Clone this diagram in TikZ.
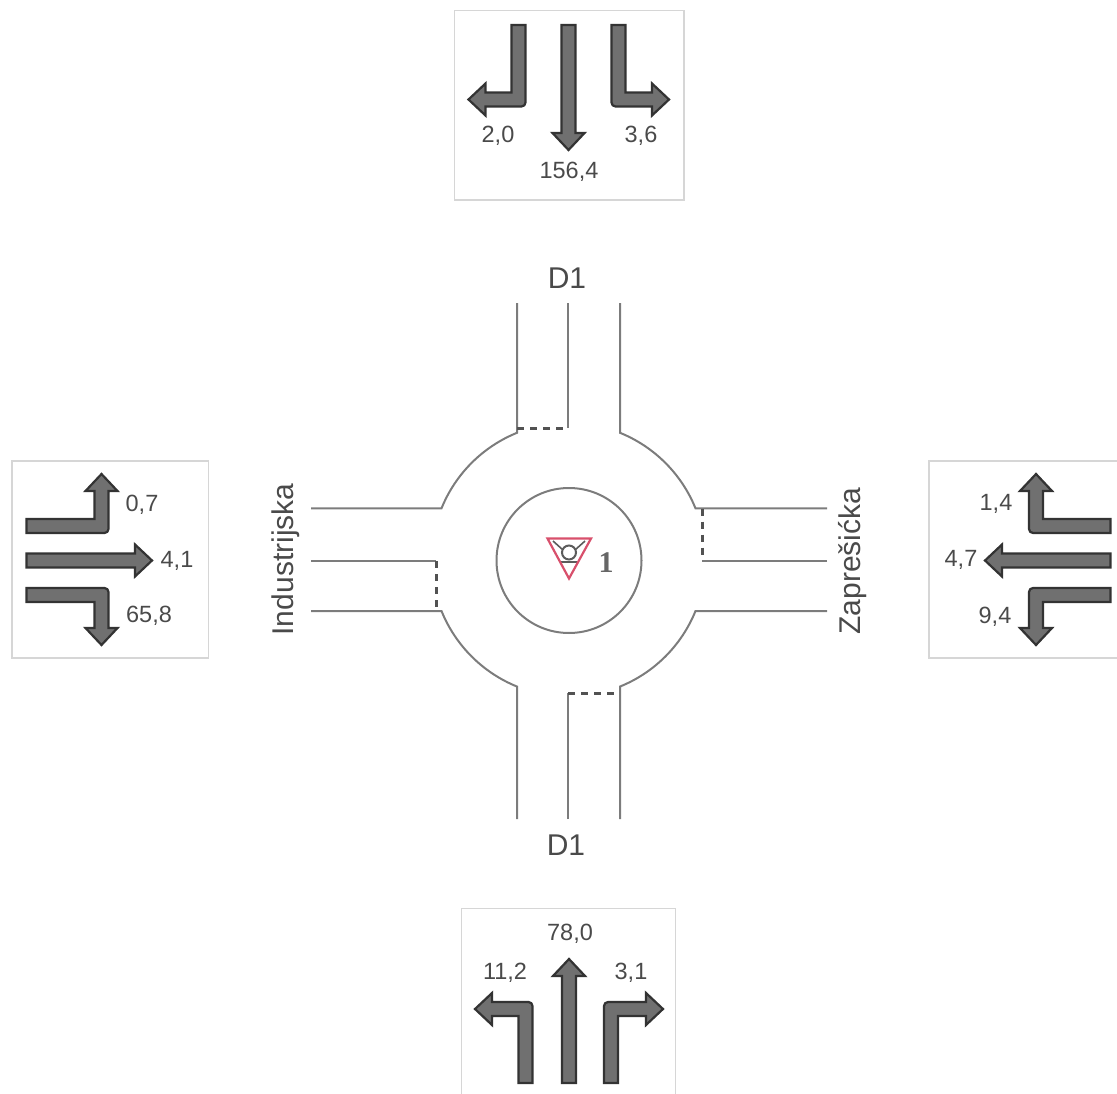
\documentclass[tikz,border=0pt]{standalone}
\usepackage{fontspec}
\setmainfont{Liberation Sans}
\newfontfamily\numfont{Liberation Serif}
\definecolor{arrowfill}{HTML}{707070}
\definecolor{arrowline}{HTML}{333333}
\definecolor{roadline}{HTML}{7C7C7C}
\definecolor{boxline}{HTML}{D6D6D6}
\definecolor{labelcol}{HTML}{4A4A4A}
\definecolor{yieldred}{HTML}{D8506C}
\tikzset{
  road/.style={draw=roadline,line width=2pt},
  stopline/.style={draw=arrowline!85!white,line width=3pt,dash pattern=on 7pt off 6pt},
  panel/.style={draw=boxline,line width=1.6pt},
  flow/.style={draw=arrowline,fill=arrowfill,line width=2.2pt,line join=miter},
  num/.style={text=labelcol,font=\fontsize{23.5}{26}\selectfont,inner sep=0pt},
  lab/.style={text=labelcol,font=\fontsize{30}{33}\selectfont,inner sep=0pt},
}
% straight arrow: x, y (start), rotation, length
\newcommand{\straightflow}[4]{%
  \begin{scope}[shift={(#1,#2)},rotate=#3]
    \path[flow] (-7,0) -- (-7,-#4+17) -- (-16,-#4+17) -- (0,-#4) -- (16,-#4+17) -- (7,-#4+17) -- (7,0) -- cycle;
  \end{scope}}
% turning arrow: x, y (start), rotation, side, run, run after the turn to the tip
\newcommand{\turnflow}[6]{%
  \begin{scope}[shift={(#1,#2)},rotate=#3,xscale=#4]
    \path[flow] (-7,0) -- (-7,-#5-3) arc[start angle=180,end angle=270,radius=4]
      -- (#6-17,-#5-7) -- (#6-17,-#5-16) -- (#6,-#5) -- (#6-17,-#5+16) -- (#6-17,-#5+7)
      -- (7,-#5+7) -- (7,0) -- cycle;
  \end{scope}}
\begin{document}
\begin{tikzpicture}[x=1pt,y=1pt]
\useasboundingbox (0,-1094) rectangle (1117,0);
% panels
\draw[panel] (454.5,-10.5) rectangle (684,-200);
\draw[panel] (12,-461) rectangle (208.5,-658);
\draw[panel] (1117,-461) -- (929,-461) -- (929,-658) -- (1117,-658);
\draw[panel] (461.5,-1094) -- (461.5,-908.5) -- (675.5,-908.5) -- (675.5,-1094);
% top panel arrows
\straightflow{568.5}{-25}{0}{125}
\turnflow{518.5}{-25}{0}{-1}{74.5}{50}
\turnflow{618.5}{-25}{0}{1}{74.5}{50.5}
% left panel arrows
\turnflow{26.5}{-526}{90}{1}{75}{52}
\straightflow{26.5}{-560.5}{90}{125.5}
\turnflow{26.5}{-595}{90}{-1}{75}{50}
% right panel arrows
\turnflow{1110.5}{-526}{-90}{-1}{74.5}{52}
\straightflow{1110.5}{-560.5}{-90}{125.5}
\turnflow{1110.5}{-595}{-90}{1}{74.5}{50}
% bottom panel arrows
\straightflow{569}{-1083}{180}{124}
\turnflow{525.5}{-1083}{180}{1}{74}{50.5}
\turnflow{611}{-1083}{180}{-1}{74}{52}
% numbers
\node[num] (n1) at (498,-136) {2,0};
\node[num] (n2) at (641,-136) {3,6};
\node[num] (n3) at (569,-172) {156,4};
\node[num] (n4) at (142,-505) {0,7};
\node[num] (n5) at (177,-561) {4,1};
\node[num] (n6) at (149,-616) {65,8};
\node[num] (n7) at (996,-504) {1,4};
\node[num] (n8) at (961,-560) {4,7};
\node[num] (n9) at (995,-617) {9,4};
\node[num] (n10) at (570,-934) {78,0};
\node[num] (n11) at (505,-973) {11,2};
\node[num] (n12) at (631,-973) {3,1};
% road
\draw[road] (517,-303) -- (517,-432.8) arc[start angle=112.08,end angle=157.92,radius=137] -- (311,-508.4);
\draw[road] (620,-303) -- (620,-432.8) arc[start angle=67.92,end angle=22.08,radius=137] -- (827,-508.4);
\draw[road] (311,-611.1) -- (441.55,-611.1) arc[start angle=202.08,end angle=247.92,radius=137] -- (517,-819);
\draw[road] (827,-611.1) -- (695.45,-611.1) arc[start angle=-22.08,end angle=-67.92,radius=137] -- (620,-819);
\draw[road] (568,-303) -- (568,-428);
\draw[road] (568,-819) -- (568,-693);
\draw[road] (311,-561) -- (436,-561);
\draw[road] (827,-560.5) -- (702,-560.5);
\draw[stopline] (517,-428) -- (568,-428);
\draw[stopline] (568,-693) -- (620,-693);
\draw[stopline] (436,-561) -- (436,-611);
\draw[stopline] (702,-508.5) -- (702,-560.5);
\node[draw=roadline,line width=2pt,circle,minimum size=145pt,inner sep=0pt] (island) at (569,-560.5) {};
% yield sign
\coordinate (ya) at (547.5,-538.5);
\coordinate (yb) at (591,-538.5);
\coordinate (yc) at (569,-578.5);
\draw[arrowline!80!white,line width=1.8pt] (560,-562) -- (578,-562);
\draw[arrowline!80!white,line width=1.6pt] (553,-541) -- (563,-550) (585,-541) -- (575,-550);
\node[draw=arrowline!80!white,fill=white,line width=2pt,circle,minimum size=14pt,inner sep=0pt] (ycirc) at (569,-552.5) {};
\draw[yieldred,line width=2.2pt,line join=miter] (ya) -- (yb) -- (yc) -- cycle;
\node[text=arrowline!75!white,font=\numfont\bfseries\fontsize{30}{32}\selectfont,inner sep=0pt] (ynum) at (606,-563) {1};
% road names
\node[lab] (d1t) at (567,-278) {D1};
\node[lab] (d1b) at (566,-845) {D1};
\node[lab,rotate=90] (ind) at (286,-559.5) {Industrijska};
\node[lab,rotate=90] (zap) at (853,-561) {Zaprešićka};
\end{tikzpicture}
\end{document}
